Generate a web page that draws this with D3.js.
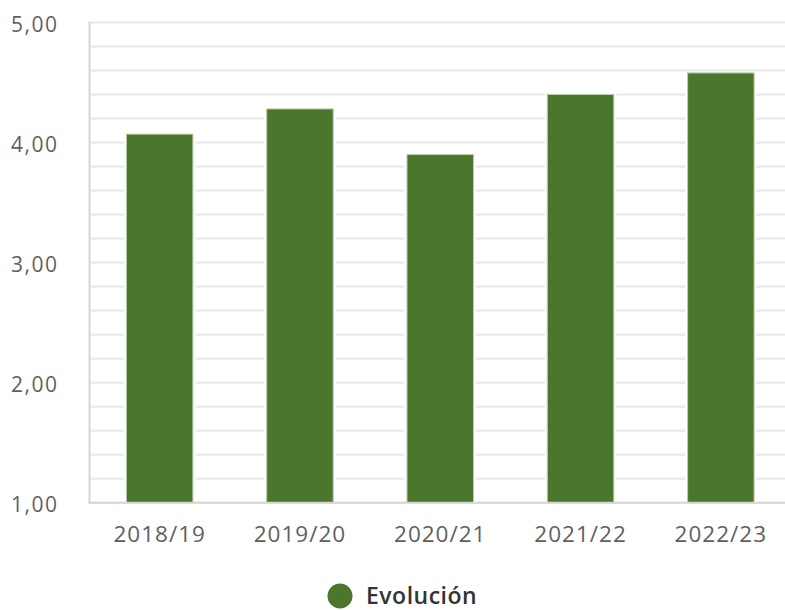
<!DOCTYPE html>
<meta charset="utf-8">
<head>
    <title>Evolución</title>
</head>
<style>
    body { margin: 0; background: #fff; }
    .tick-y, .tick-x { font-family: "Open Sans", sans-serif; fill: #5f5f62; }
    .legend-label { font-family: "Open Sans", sans-serif; font-weight: 600; fill: #333; }
</style>
<div id="graph_div"></div>
<script src="https://d3js.org/d3.v7.min.js"></script>
<script>

    // data
    var categories = ["2018/19", "2019/20", "2020/21", "2021/22", "2022/23"];
    var values = [4.07, 4.28, 3.90, 4.40, 4.58];
    var yTicks = [1, 2, 3, 4, 5];
    var yTickLabels = ["1,00", "2,00", "3,00", "4,00", "5,00"];
    var seriesName = "Evolución";

    var width = 785, height = 610;
    var plot = {left: 89.5, right: 791, top: 22.5, bottom: 502.7};

    var svg = d3.select("#graph_div")
      .append("svg")
        .attr("width", width)
        .attr("height", height);

    var x = d3.scaleBand()
      .domain(categories)
      .range([plot.left, plot.right])
      .paddingInner(0.526)
      .paddingOuter(0.263);

    var y = d3.scaleLinear()
      .domain([1, 5])
      .range([plot.bottom, plot.top]);

    // minor + major gridlines every 0.2
    var gridVals = d3.range(1, 5.001, 0.2);
    svg.append("g")
      .selectAll("line")
      .data(gridVals)
      .enter().append("line")
        .attr("x1", plot.left)
        .attr("x2", plot.right)
        .attr("y1", function(d) { return y(d); })
        .attr("y2", function(d) { return y(d); })
        .attr("stroke", "#e8e8e8")
        .attr("stroke-width", 2);

    // bars: white halo so gridlines break around them
    var bars = svg.append("g");
    bars.selectAll("rect.halo")
      .data(values)
      .enter().append("rect")
        .attr("class", "halo")
        .attr("x", function(d, i) { return x(categories[i]) - 2.5; })
        .attr("width", x.bandwidth() + 5)
        .attr("y", function(d) { return y(d) - 1; })
        .attr("height", function(d) { return y(1) - y(d) + 1; })
        .attr("fill", "#fff");

    bars.selectAll("rect.bar")
      .data(values)
      .enter().append("rect")
        .attr("class", "bar")
        .attr("x", function(d, i) { return x(categories[i]); })
        .attr("width", x.bandwidth())
        .attr("y", function(d) { return y(d); })
        .attr("height", function(d) { return y(1) - y(d); })
        .attr("fill", "#4b762b")
        .attr("stroke", "#b8cdaa")
        .attr("stroke-width", 1);

    // axis lines
    svg.append("line")
      .attr("x1", plot.left).attr("x2", plot.left)
      .attr("y1", plot.top - 1).attr("y2", plot.bottom + 1)
      .attr("stroke", "#d6d6d6").attr("stroke-width", 2);
    svg.append("line")
      .attr("x1", plot.left - 1).attr("x2", plot.right)
      .attr("y1", plot.bottom).attr("y2", plot.bottom)
      .attr("stroke", "#d6d6d6").attr("stroke-width", 2);

    // y tick labels
    svg.append("g")
      .selectAll("text")
      .data(yTicks)
      .enter().append("text")
        .attr("class", "tick-y")
        .attr("x", 58.5)
        .attr("y", function(d) { return y(d) + 9.5; })
        .attr("text-anchor", "end")
        .style("font-size", "21px")
        .style("letter-spacing", "1.5px")
        .text(function(d, i) { return yTickLabels[i]; });

    // x tick labels
    svg.append("g")
      .selectAll("text")
      .data(categories)
      .enter().append("text")
        .attr("class", "tick-x")
        .attr("x", function(d) { return x(d) + x.bandwidth() / 2; })
        .attr("y", 541.5)
        .attr("text-anchor", "middle")
        .style("font-size", "22.5px")
        .style("letter-spacing", "1px")
        .text(function(d) { return d; });

    // legend (kept just inside the bottom edge)
    var legend = svg.append("g");
    legend.append("circle")
      .attr("cx", 340)
      .attr("cy", 596)
      .attr("r", 12.5)
      .attr("fill", "#4b762b");
    legend.append("text")
      .attr("class", "legend-label")
      .attr("x", 366)
      .attr("y", 603.5)
      .style("font-size", "23px")
      .style("letter-spacing", "0.5px")
      .text(seriesName);
</script>
